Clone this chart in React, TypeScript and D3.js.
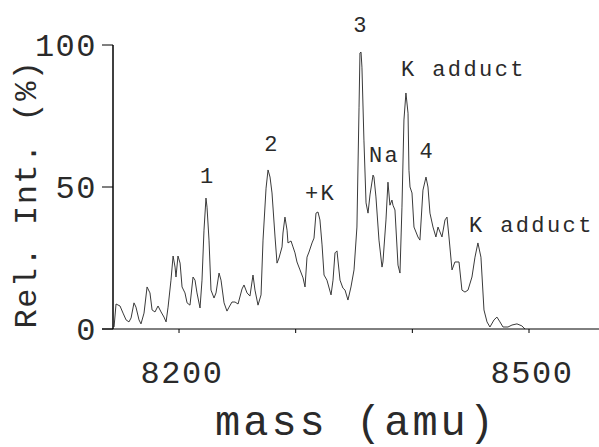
import React, { useMemo } from "react";
import * as d3 from "d3";

const W = 599;
const H = 447;

// Mass spectrum trace: mass (amu) and relative intensity (%)
const masses = [
  8144.3, 8146.0, 8149.4, 8152.0, 8154.6, 8157.1, 8158.9, 8161.4, 8163.1, 8165.7,
  8167.4, 8170.0, 8172.6, 8175.1, 8176.9, 8179.4, 8182.0, 8184.6, 8187.1, 8188.9,
  8190.6, 8193.1, 8194.9, 8196.6, 8197.4, 8199.1, 8200.9, 8202.6, 8205.1, 8206.9,
  8209.4, 8212.0, 8213.7, 8215.4, 8218.0, 8219.7, 8221.4, 8223.1, 8224.0, 8225.7,
  8227.4, 8230.0, 8231.7, 8234.3, 8236.0, 8238.6, 8241.1, 8242.9, 8245.4, 8248.0,
  8250.6, 8254.0, 8255.7, 8258.3, 8260.8, 8263.4, 8265.1, 8267.7, 8270.3, 8272.0,
  8274.6, 8276.3, 8278.0, 8279.7, 8282.3, 8284.0, 8285.7, 8288.3, 8289.1, 8290.8,
  8292.6, 8293.4, 8296.0, 8297.7, 8299.4, 8301.1, 8303.7, 8306.3, 8308.0, 8309.7,
  8311.4, 8314.0, 8315.7, 8317.4, 8319.1, 8320.8, 8322.6, 8324.3, 8326.8, 8330.3,
  8332.0, 8333.7, 8335.4, 8338.0, 8340.5, 8342.3, 8344.8, 8347.4, 8350.0, 8352.5,
  8354.3, 8355.1, 8356.0, 8356.8, 8358.5, 8360.3, 8362.0, 8363.7, 8366.3, 8367.1,
  8368.8, 8371.4, 8374.0, 8374.8, 8377.4, 8379.1, 8380.8, 8382.5, 8383.4, 8385.1,
  8387.7, 8389.4, 8391.1, 8392.8, 8394.5, 8396.3, 8397.1, 8398.0, 8399.7, 8401.4,
  8404.8, 8406.5, 8409.1, 8411.7, 8413.4, 8415.1, 8417.7, 8420.2, 8422.0, 8425.4,
  8428.0, 8429.7, 8431.4, 8434.0, 8436.5, 8440.0, 8442.5, 8445.1, 8447.7, 8451.1,
  8453.7, 8456.2, 8458.8, 8461.4, 8464.0, 8466.5, 8470.0, 8472.5, 8475.1, 8477.7,
  8482.0, 8485.4, 8489.7, 8493.9, 8496.5,
];

const intensities = [
  0.7, 8.8, 8.1, 5.6, 3.2, 2.5, 3.9, 9.2, 7.7, 3.2,
  1.8, 5.6, 14.8, 12.7, 6.7, 6.0, 8.1, 6.0, 4.2, 2.5,
  7.7, 17.2, 25.7, 21.8, 18.3, 25.7, 23.2, 14.8, 12.7, 9.2,
  8.4, 18.3, 17.2, 12.7, 7.4, 17.2, 34.8, 46.1, 42.9, 31.3,
  13.7, 10.9, 12.7, 19.7, 17.2, 9.2, 6.3, 7.7, 9.5, 9.5,
  8.8, 14.1, 15.5, 12.7, 11.6, 19.0, 13.7, 8.4, 12.0, 31.3,
  49.6, 56.0, 53.5, 47.9, 32.4, 23.2, 25.0, 28.9, 33.8, 39.4,
  34.8, 30.3, 31.0, 28.9, 26.8, 23.6, 20.8, 18.0, 14.8, 25.3,
  27.1, 30.3, 32.0, 40.8, 41.2, 38.4, 29.6, 19.0, 17.2, 12.0,
  17.2, 26.8, 27.5, 17.2, 14.4, 13.7, 10.2, 14.8, 20.8, 35.9,
  78.1, 97.2, 97.5, 92.2, 66.5, 44.4, 40.8, 47.2, 54.2, 53.5,
  46.5, 31.3, 21.8, 23.6, 38.4, 51.7, 43.6, 45.4, 43.6, 41.9,
  22.5, 19.7, 42.9, 73.6, 83.1, 76.0, 55.9, 50.0, 47.9, 35.9,
  32.4, 31.3, 48.9, 53.5, 50.0, 40.8, 35.9, 32.4, 35.9, 32.4,
  38.4, 39.4, 32.4, 20.8, 23.6, 23.6, 13.7, 13.0, 13.7, 18.3,
  25.3, 30.3, 25.3, 6.7, 2.5, 0.7, 3.2, 4.2, 2.5, 0.7,
  0.7, 1.4, 1.8, 1.1, 0,
];

// Axis ticks
const xTicks = [8200, 8300, 8400, 8500];
const xTickLabels = ["8200", "", "", "8500"];
const yTicks = [0, 50, 100];
const yTickLabels = ["0", "50", "100"];

// Peak annotations (anchored in data space)
const annLabels = ["1", "2", "+K", "3", "K adduct", "Na", "4", "K adduct"];
const annMass = [8223.6, 8278.8, 8308.0, 8355.1, 8390.3, 8362.8, 8411.7, 8448.5];
const annInt = [51.4, 62.7, 45.4, 104.5, 89.1, 58.8, 60.2, 34.1];
const annAnchor = ["middle", "middle", "start", "middle", "start", "start", "middle", "start"];

const FONT = "'Liberation Mono', 'DejaVu Sans Mono', monospace";
const TXT = "#2a2a2a";

export default function App() {
  const x = useMemo(() => d3.scaleLinear().domain([8143.4, 8560]).range([113, 599]), []);
  const y = useMemo(() => d3.scaleLinear().domain([0, 100]).range([329, 45]), []);

  const pts: [number, number][] = masses.map((m, i) => [m, intensities[i]]);
  const line = d3
    .line<[number, number]>()
    .x((d) => x(d[0]))
    .y((d) => y(d[1]));

  const x0 = x.range()[0];
  const yBase = y(0);

  return (
    <svg
      width={W}
      height={H}
      style={{ position: "absolute", left: 0, top: 0, background: "#fff" }}
    >
      {/* spectrum trace */}
      <path d={line(pts) || ""} fill="none" stroke="#3a3a3a" strokeWidth={1} />

      {/* y axis */}
      <line x1={x0} x2={x0} y1={y(100)} y2={yBase} stroke="#000" strokeWidth={1.5} />
      {yTicks.map((t, i) => (
        <g key={"yt" + i}>
          <line x1={x0 - 11} x2={x0} y1={y(t)} y2={y(t)} stroke="#000" strokeWidth={1} />
          <text
            x={x0 - 16}
            y={y(t) + 11}
            textAnchor="end"
            fontFamily={FONT}
            fontSize={32}
            letterSpacing={1.5}
            fill={TXT}
          >
            {yTickLabels[i]}
          </text>
        </g>
      ))}

      {/* x axis */}
      <line x1={x0 - 11} x2={W} y1={yBase} y2={yBase} stroke="#000" strokeWidth={1} />
      {xTicks.map((t, i) => (
        <g key={"xt" + i}>
          <line x1={x(t)} x2={x(t)} y1={yBase} y2={yBase + 4} stroke="#000" strokeWidth={1} />
          {xTickLabels[i] && (
            <text
              x={x(t) + 3}
              y={383}
              textAnchor="middle"
              fontFamily={FONT}
              fontSize={32}
              letterSpacing={1.5}
              fill={TXT}
            >
              {xTickLabels[i]}
            </text>
          )}
        </g>
      ))}

      {/* axis titles */}
      <text
        x={356}
        y={435}
        textAnchor="middle"
        fontFamily={FONT}
        fontSize={42}
        letterSpacing={3}
        fill={TXT}
      >
        mass (amu)
      </text>
      <text
        transform={`translate(36, 194) rotate(-90)`}
        textAnchor="middle"
        fontFamily={FONT}
        fontSize={32}
        letterSpacing={1.5}
        fill={TXT}
      >
        Rel. Int. (%)
      </text>

      {/* annotations */}
      {annLabels.map((lab, i) => (
        <text
          key={"a" + i}
          x={x(annMass[i])}
          y={y(annInt[i])}
          textAnchor={annAnchor[i] as any}
          fontFamily={FONT}
          fontSize={22}
          letterSpacing={annAnchor[i] === "start" ? 2.4 : 0}
          fill={TXT}
        >
          {lab}
        </text>
      ))}
    </svg>
  );
}
